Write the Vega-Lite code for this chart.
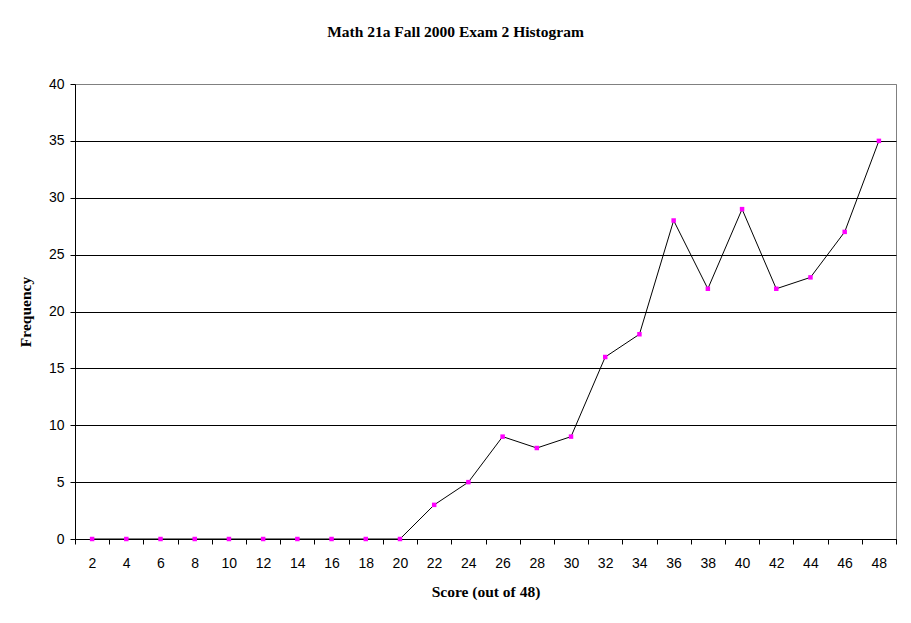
{
  "$schema": "https://vega.github.io/schema/vega-lite/v6.json",
  "width": 821,
  "height": 455,
  "autosize": {"type": "none"},
  "padding": {"left": 75, "top": 84, "right": 15, "bottom": 84},
  "background": "white",
  "title": {
    "text": "Math 21a Fall 2000 Exam 2 Histogram",
    "font": "Liberation Serif",
    "fontSize": 15.5,
    "fontWeight": "bold",
    "color": "black",
    "anchor": "middle",
    "frame": "group",
    "dx": -30,
    "offset": 37
  },
  "config": {
    "view": {"stroke": "#808080", "strokeWidth": 1},
    "axis": {
      "labelFont": "Liberation Sans",
      "labelFontSize": 14,
      "labelColor": "black",
      "titleFont": "Liberation Serif",
      "titleFontSize": 15.5,
      "titleFontWeight": "bold",
      "titleColor": "black",
      "domainColor": "black",
      "tickColor": "black",
      "tickSize": 5
    }
  },
  "data": {
    "values": [
      {"score": 2, "freq": 0},
      {"score": 4, "freq": 0},
      {"score": 6, "freq": 0},
      {"score": 8, "freq": 0},
      {"score": 10, "freq": 0},
      {"score": 12, "freq": 0},
      {"score": 14, "freq": 0},
      {"score": 16, "freq": 0},
      {"score": 18, "freq": 0},
      {"score": 20, "freq": 0},
      {"score": 22, "freq": 3},
      {"score": 24, "freq": 5},
      {"score": 26, "freq": 9},
      {"score": 28, "freq": 8},
      {"score": 30, "freq": 9},
      {"score": 32, "freq": 16},
      {"score": 34, "freq": 18},
      {"score": 36, "freq": 28},
      {"score": 38, "freq": 22},
      {"score": 40, "freq": 29},
      {"score": 42, "freq": 22},
      {"score": 44, "freq": 23},
      {"score": 46, "freq": 27},
      {"score": 48, "freq": 35}
    ]
  },
  "encoding": {
    "x": {
      "field": "score",
      "type": "quantitative",
      "scale": {"domain": [1, 49], "nice": false, "zero": false},
      "axis": {
        "title": "Score (out of 48)",
        "values": [1, 3, 5, 7, 9, 11, 13, 15, 17, 19, 21, 23, 25, 27, 29, 31, 33, 35, 37, 39, 41, 43, 45, 47, 49],
        "labelExpr": "datum.value == 49 ? '' : '' + (datum.value + 1)",
        "labelOffset": 17,
        "labelPadding": 12,
        "labelFlush": false,
        "labelOverlap": false,
        "titlePadding": 14,
        "grid": false
      }
    },
    "y": {
      "field": "freq",
      "type": "quantitative",
      "scale": {"domain": [0, 40], "nice": false},
      "axis": {
        "title": "Frequency",
        "values": [0, 5, 10, 15, 20, 25, 30, 35, 40],
        "grid": true,
        "gridColor": {"condition": {"test": "datum.value == 40", "value": "#808080"}, "value": "black"},
        "gridOpacity": 1,
        "labelPadding": 6,
        "titlePadding": 15
      }
    }
  },
  "layer": [
    {"mark": {"type": "line", "color": "black", "strokeWidth": 1}},
    {"mark": {"type": "point", "shape": "square", "filled": true, "color": "#ff00ff", "opacity": 1, "size": 20}}
  ]
}
